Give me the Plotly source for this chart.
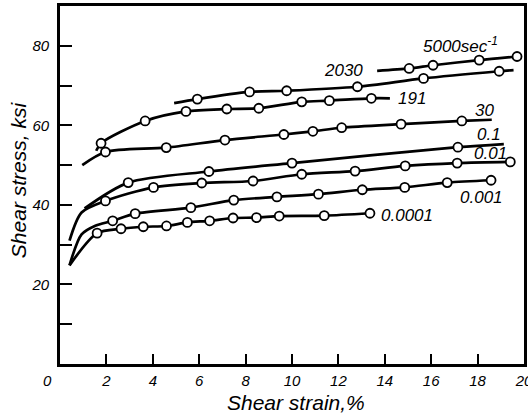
import plotly.graph_objects as go

# ---- data (shear strain %, shear stress ksi) ----
rate_labels = ["5000", "2030", "191", "30", "0.1", "0.01", "0.001", "0.0001"]

# 5000 sec^-1
lead_x_5000 = [13.67]
lead_y_5000 = [73.7]
x_5000 = [15.05, 16.08, 18.07, 19.70]
y_5000 = [74.3, 75.1, 76.4, 77.3]
tail_x_5000 = []
tail_y_5000 = []

# 2030
lead_x_2030 = [4.92]
lead_y_2030 = [65.6]
x_2030 = [5.92, 8.17, 9.77, 12.82, 15.67, 18.93]
y_2030 = [66.6, 68.4, 68.7, 69.7, 71.8, 73.6]
tail_x_2030 = [19.55]
tail_y_2030 = [73.9]

# 191
lead_x_191 = [1.56]
lead_y_191 = [53.6]
x_191 = [1.77, 3.67, 5.43, 7.19, 8.57, 10.42, 11.61, 13.42]
y_191 = [55.5, 61.1, 63.5, 64.1, 64.3, 65.9, 66.2, 66.8]
tail_x_191 = [14.22]
tail_y_191 = [66.8]

# 30
lead_x_30 = [0.96]
lead_y_30 = [50.0]
x_30 = [1.96, 4.58, 7.11, 9.65, 10.90, 12.14, 14.70, 17.32]
y_30 = [53.3, 54.4, 56.3, 57.7, 58.5, 59.4, 60.3, 61.1]
tail_x_30 = [18.61]
tail_y_30 = [61.4]

# 0.1
lead_x_01 = [1.06]
lead_y_01 = [39.1]
x_01 = [2.94, 6.42, 10.0, 17.15]
y_01 = [45.6, 48.4, 50.5, 54.5]
tail_x_01 = [19.13]
tail_y_01 = [55.3]

# 0.01
lead_x_001 = [0.41, 0.93]
lead_y_001 = [31.0, 38.1]
x_001 = [1.96, 4.03, 6.11, 8.32, 10.42, 12.72, 14.88, 17.12, 19.41]
y_001 = [41.0, 44.4, 45.5, 46.0, 47.7, 48.5, 49.8, 50.5, 50.8]
tail_x_001 = []
tail_y_001 = []

# 0.001
lead_x_0001 = [0.41, 0.93, 1.50]
lead_y_0001 = [24.8, 32.6, 34.7]
x_0001 = [2.27, 3.24, 5.64, 7.49, 9.35, 11.14, 13.03, 14.86, 16.69, 18.58]
y_0001 = [36.0, 37.8, 39.3, 41.2, 42.0, 42.7, 43.8, 44.4, 45.6, 46.2]
tail_x_0001 = []
tail_y_0001 = []

# 0.0001
lead_x_00001 = [0.41]
lead_y_00001 = [24.8]
x_00001 = [1.60, 2.63, 3.59, 4.59, 5.49, 6.45, 7.46, 8.47, 9.45, 11.39, 13.36]
y_00001 = [32.9, 34.0, 34.5, 34.7, 35.6, 36.0, 36.7, 36.8, 37.2, 37.3, 37.9]
tail_x_00001 = []
tail_y_00001 = []

x_ticks = [2, 4, 6, 8, 10, 12, 14, 16, 18, 20]
y_ticks = [20, 40, 60, 80]

series = [
    (lead_x_5000, lead_y_5000, x_5000, y_5000, tail_x_5000, tail_y_5000),
    (lead_x_2030, lead_y_2030, x_2030, y_2030, tail_x_2030, tail_y_2030),
    (lead_x_191, lead_y_191, x_191, y_191, tail_x_191, tail_y_191),
    (lead_x_30, lead_y_30, x_30, y_30, tail_x_30, tail_y_30),
    (lead_x_01, lead_y_01, x_01, y_01, tail_x_01, tail_y_01),
    (lead_x_001, lead_y_001, x_001, y_001, tail_x_001, tail_y_001),
    (lead_x_0001, lead_y_0001, x_0001, y_0001, tail_x_0001, tail_y_0001),
    (lead_x_00001, lead_y_00001, x_00001, y_00001, tail_x_00001, tail_y_00001),
]

fig = go.Figure()
for name, (lx, ly, px, py, tx, ty) in zip(rate_labels, series):
    fig.add_trace(go.Scatter(
        x=lx + px + tx, y=ly + py + ty, mode="lines",
        line=dict(color="black", width=2.7, shape="spline", smoothing=0.8),
        name=name, showlegend=False, hoverinfo="skip", cliponaxis=False))
for name, (lx, ly, px, py, tx, ty) in zip(rate_labels, series):
    fig.add_trace(go.Scatter(
        x=px, y=py, mode="markers",
        marker=dict(symbol="circle", size=9, color="white",
                    line=dict(color="black", width=1.8)),
        name=name, showlegend=False, cliponaxis=False))

lab_font = dict(family="Liberation Sans", size=17, color="black", style="italic")
labels = [
    ("5000sec<sup>-1</sup>", 15.55, 80.2, "left"),
    ("2030", 12.21, 73.8, "center"),
    ("191", 14.50, 66.8, "left"),
    ("30", 18.31, 63.8, "center"),
    ("0.1", 18.50, 57.7, "center"),
    ("0.01", 18.57, 52.8, "center"),
    ("0.001", 18.18, 41.9, "center"),
    ("0.0001", 13.75, 37.3, "left"),
]
for text, ax, ay, anc in labels:
    fig.add_annotation(x=ax, y=ay, text=text, showarrow=False, xanchor=anc,
                       yanchor="middle", font=lab_font)

title_font = dict(family="Liberation Sans", size=21, color="black", style="italic")
fig.add_annotation(x=0.509, y=-0.108, xref="paper", yref="paper",
                   text="Shear strain,%", showarrow=False,
                   xanchor="center", yanchor="middle", font=title_font)
fig.add_annotation(x=-0.088, y=0.514, xref="paper", yref="paper",
                   text="Shear stress, ksi", showarrow=False, textangle=-90,
                   xanchor="center", yanchor="middle", font=title_font)

tick_font = dict(family="Liberation Sans", size=15, color="black", style="italic")
fig.add_annotation(x=-0.026, y=-0.045, xref="paper", yref="paper",
                   text="0", showarrow=False, xanchor="center", yanchor="middle",
                   font=tick_font)

fig.update_xaxes(range=[0, 20], tickvals=x_ticks, ticktext=[str(v) for v in x_ticks],
                 ticks="inside", ticklen=10, tickwidth=2, tickcolor="black",
                 showline=True, linewidth=2.6, linecolor="black", mirror=True,
                 showgrid=False, zeroline=False, tickfont=tick_font,
                 ticklabelstandoff=1, ticklabeloverflow="allow", automargin=False)
fig.update_yaxes(range=[0, 90], tickvals=y_ticks, ticktext=[str(v) for v in y_ticks],
                 ticks="inside", ticklen=12, tickwidth=2, tickcolor="black",
                 minor=dict(ticks="inside", ticklen=12, tickwidth=2,
                            tickcolor="black", dtick=10, tick0=0, showgrid=False),
                 showline=True, linewidth=2.6, linecolor="black", mirror=True,
                 showgrid=False, zeroline=False, tickfont=tick_font,
                 ticklabelstandoff=5, automargin=False)
fig.update_layout(width=528, height=416,
                  margin=dict(l=60, r=4, t=6, b=52),
                  paper_bgcolor="white", plot_bgcolor="white",
                  showlegend=False)
fig.write_html("out.html", config={"displayModeBar": False},
               post_script="document.body.style.margin='0';"
                           "document.body.style.overflow='hidden';")
